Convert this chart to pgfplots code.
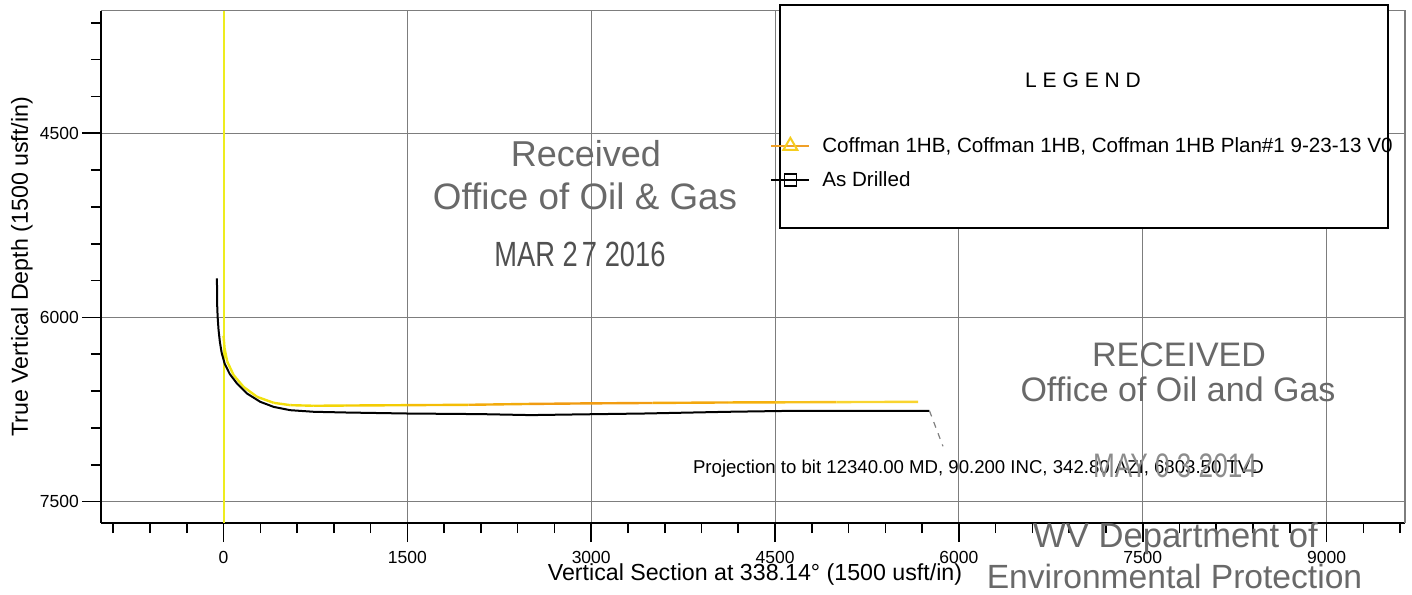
\documentclass[border=0pt]{standalone}
\usepackage{fontspec}
\setmainfont{Liberation Sans}
\usepackage{graphicx}
\usepackage{pgfplots}
\usepackage{pgfplotstable}
\pgfplotsset{compat=1.18}

\definecolor{planyellow}{RGB}{238,236,30}
\definecolor{planorange}{RGB}{240,160,40}
\definecolor{stampgray}{RGB}{105,105,105}
\definecolor{stamplight}{RGB}{140,140,140}
\definecolor{gridgray}{RGB}{125,125,125}

\pgfplotstableread{
x y
-54 5682
-52 5900
-48 6000
-41 6100
-30 6200
-15 6290
10 6380
50 6460
109 6538
191 6620
300 6688
409 6729
545 6756
736 6769
1009 6775
1499 6783
2098 6788
2507 6796
2916 6790
3431 6783
4115 6769
4659 6761
5200 6762
5760 6761
}\drilled

\pgfplotstableread{
x y
0 6150
8 6250
30 6360
82 6470
163 6566
273 6647
409 6696
545 6715
736 6720
1000 6718
1499 6715
2000 6712
2500 6705
2916 6701
3500 6697
4115 6693
4500 6692
5000 6690
5668 6688
}\plan

\begin{document}
\begin{tikzpicture}
\useasboundingbox (-50.5pt,-35.5pt) rectangle (655.5pt,261.5pt);
\begin{axis}[
  at={(0pt,0pt)}, anchor=south west,
  scale only axis, width=652pt, height=256.25pt,
  xmin=-1000, xmax=9640, ymin=3500, ymax=7675, y dir=reverse,
  axis x line*=bottom, axis y line*=left,
  axis line style={black, line width=1pt, -},
  xtick={0,1500,...,9000}, ytick={4500,6000,7500},
  minor xtick={-900,-600,...,9600}, minor ytick={3600,3900,...,7500},
  tick align=outside,
  major tick length=9.5pt, minor tick length=5pt,
  every tick/.style={black, line width=0.8pt},
  xmajorgrids, ymajorgrids,
  major grid style={gridgray, line width=0.5pt},
  ticklabel style={font=\fontsize{8.75}{10}\selectfont},
  xticklabel style={yshift=-1pt},
  yticklabel style={xshift=2pt},
  /pgf/number format/assume math mode=true,
  /pgf/number format/1000 sep={},
  xlabel={Vertical Section at 338.14° (1500 usft/in)},
  ylabel={True Vertical Depth (1500 usft/in)},
  xlabel style={at={(axis description cs:0.5015,-0.1113)}, anchor=base, font=\fontsize{11.6}{13}\selectfont},
  ylabel style={at={(axis description cs:-0.056,0.5)}, anchor=base, font=\fontsize{11.6}{13}\selectfont},
  clip=false,
  legend style={at={(axis description cs:0.513,0.7523)}, anchor=north west, draw=none, fill=none,
    inner sep=0pt, row sep=8pt, column sep=6pt,
    nodes={inner sep=0pt, anchor=base west},
    font=\fontsize{10.3}{12}\selectfont},
  legend cell align=left,
  legend image code/.code={\draw[mark repeat=2,mark phase=2,#1] plot coordinates {(0pt,3.5pt) (9.5pt,3.5pt) (19pt,3.5pt)};},
]
\addplot[planyellow, line width=1pt, forget plot] coordinates {(0,3500) (0,7675)};
\addplot[mesh, line width=1.2pt, forget plot, point meta=x, point meta min=0, point meta max=5700,
  colormap={plancm}{rgb255=(240,232,20) rgb255=(245,200,0) rgb255=(240,150,20) rgb255=(245,175,10) rgb255=(250,225,60)}]
  table {\plan};
\addplot[black, line width=1pt, forget plot] table {\drilled};
\draw[gridgray, line width=0.6pt] (axis cs:-1000,3500) -- (axis cs:9640,3500) -- (axis cs:9640,7675);
\draw[gray, dashed, line width=0.6pt] (axis cs:5760,6761) -- (axis cs:5870,7050);
\draw[black, line width=1pt, fill=white] (axis cs:4542,3452) rectangle (axis cs:9504,5270);
\addlegendimage{planorange, line width=1pt, mark=triangle, mark size=4pt, mark options={draw={rgb,255:red,245;green,205;blue,30}, solid}}
\addlegendentry{Coffman 1HB, Coffman 1HB, Coffman 1HB Plan\#1 9-23-13 V0}
\addlegendimage{black, line width=0.8pt, mark=square, mark size=3pt, mark options={solid}}
\addlegendentry{As Drilled}
\end{axis}
\begin{scope}[x=0.5pt, y=-0.5pt, shift={(-101,-523)}]
  \node[anchor=base, font=\fontsize{10.5}{12}\selectfont] at (1083,88) {L E G E N D};
  \node[anchor=base west, font=\fontsize{9.3}{11}\selectfont] at (686,473) {Projection to bit 12340.00 MD, 90.200 INC, 342.80 AZI, 6803.50 TVD};
  \begin{scope}[text=stampgray]
    \node[anchor=base, font=\fontsize{18}{20}\selectfont] at (586,167) {Received};
    \node[anchor=base, font=\fontsize{18.4}{20}\selectfont] at (585,210) {Office of Oil \& Gas};
    \node[anchor=base, font=\fontsize{17.5}{20}\selectfont, text={rgb,255:red,80;green,80;blue,80}] at (580,267) {\scalebox{0.78}[1]{MAR 2\hspace{0.15em}7 2016}};
    \node[anchor=base, font=\fontsize{17}{20}\selectfont] at (1179,367) {RECEIVED};
    \node[anchor=base, font=\fontsize{17}{20}\selectfont] at (1178,402) {Office of Oil and Gas};
    \node[anchor=base, font=\fontsize{17}{20}\selectfont, text=stamplight] at (1175,477) {\scalebox{0.77}[1]{MAY 0 3 2014}};
    \node[anchor=base, font=\fontsize{17.3}{20}\selectfont] at (1175.5,547) {WV Department of};
    \node[anchor=base, font=\fontsize{16.8}{20}\selectfont] at (1174.5,588) {Environmental Protection};
  \end{scope}
\end{scope}
\end{tikzpicture}
\end{document}
